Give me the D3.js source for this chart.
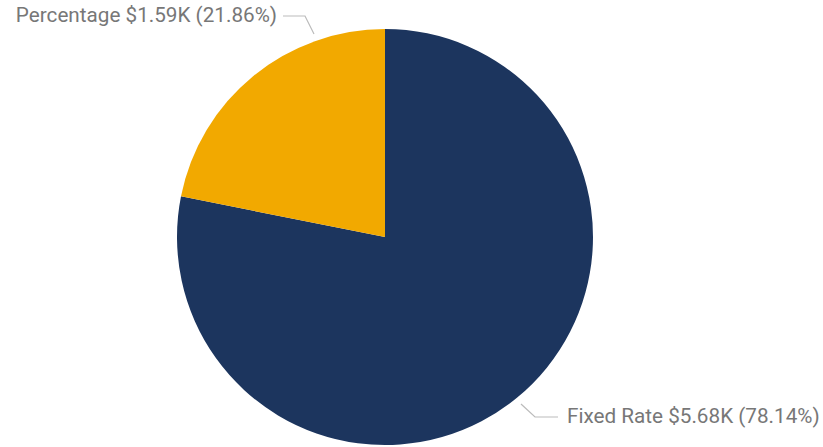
<!DOCTYPE html>
<html><head><meta charset="utf-8">
<script src="https://cdn.jsdelivr.net/npm/d3@7"></script>
<style>body{margin:0;background:#fff}svg{display:block}</style>
</head><body>
<svg id="c" width="823" height="447"></svg>
<script>
const categories = ["Fixed Rate", "Percentage"];
const values = [5.68, 1.59];
const percents = ["78.14%", "21.86%"];
const valueLabels = ["$5.68K", "$1.59K"];
const colors = ["#1C355E", "#F2A900"];

const svg = d3.select("#c");
const cx = 385, cy = 237, r = 208;
const pie = d3.pie().sort(null).value(d => d.v);
const data = pie(categories.map((c, i) => ({c, v: values[i], i})));
const arc = d3.arc().innerRadius(0).outerRadius(r);
const g = svg.append("g").attr("transform", `translate(${cx},${cy})`);
g.selectAll("path").data(data).join("path")
  .attr("d", arc).attr("fill", d => colors[d.data.i]);

const font = "Roboto, 'DejaVu Sans', sans-serif";
const labels = [
  {i: 0, pts: [[521,404],[535,417],[558,417]], tx: 567, ty: 423, anchor: "start"},
  {i: 1, pts: [[314,34],[305,16],[283,16]], tx: 277, ty: 22, anchor: "end"}
];
labels.forEach(l => {
  svg.append("polyline").attr("points", l.pts.map(p => p.join(",")).join(" "))
    .attr("fill", "none").attr("stroke", "#bbb").attr("stroke-width", 1.2);
  svg.append("text").attr("x", l.tx).attr("y", l.ty).attr("text-anchor", l.anchor)
    .attr("font-family", font).attr("font-size", 20.7).attr("fill", "#777")
    .text(`${categories[l.i]} ${valueLabels[l.i]} (${percents[l.i]})`);
});
</script>
</body></html>
